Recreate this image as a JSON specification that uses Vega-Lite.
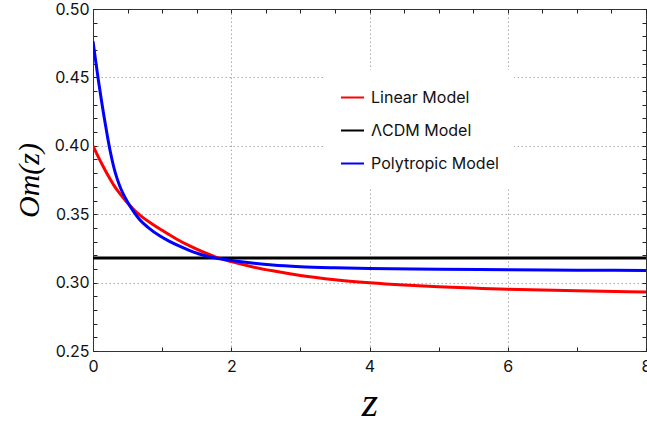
{
  "$schema": "https://vega.github.io/schema/vega-lite/v6.json",
  "width": 553,
  "height": 342,
  "autosize": {"type": "none"},
  "padding": {"left": 93, "top": 9, "right": 1, "bottom": 80},
  "background": "white",
  "config": {
    "view": {"stroke": "#333", "strokeWidth": 1},
    "axis": {"labelFont": "Inter", "labelFontSize": 16, "labelColor": "#111", "domainColor": "#333", "tickColor": "#222", "tickWidth": 1, "ticks": true, "titleColor": "#000", "titleFont": "Liberation Serif", "titleFontStyle": "italic", "titleFontWeight": "normal"}
  },
  "datasets": {
    "curves": [
      {"z": 0, "om": 0.4, "model": "Linear Model"},
      {"z": 0.1, "om": 0.3895, "model": "Linear Model"},
      {"z": 0.2, "om": 0.3799, "model": "Linear Model"},
      {"z": 0.3, "om": 0.3713, "model": "Linear Model"},
      {"z": 0.4, "om": 0.3643, "model": "Linear Model"},
      {"z": 0.5, "om": 0.3582, "model": "Linear Model"},
      {"z": 0.6, "om": 0.3529, "model": "Linear Model"},
      {"z": 0.7, "om": 0.3484, "model": "Linear Model"},
      {"z": 0.85, "om": 0.343, "model": "Linear Model"},
      {"z": 1.0, "om": 0.3382, "model": "Linear Model"},
      {"z": 1.2, "om": 0.3321, "model": "Linear Model"},
      {"z": 1.4, "om": 0.3268, "model": "Linear Model"},
      {"z": 1.6, "om": 0.3222, "model": "Linear Model"},
      {"z": 1.8, "om": 0.3183, "model": "Linear Model"},
      {"z": 2.0, "om": 0.3153, "model": "Linear Model"},
      {"z": 2.3, "om": 0.3116, "model": "Linear Model"},
      {"z": 2.6, "om": 0.3086, "model": "Linear Model"},
      {"z": 3.0, "om": 0.3052, "model": "Linear Model"},
      {"z": 3.5, "om": 0.3021, "model": "Linear Model"},
      {"z": 4.0, "om": 0.2999, "model": "Linear Model"},
      {"z": 4.5, "om": 0.2982, "model": "Linear Model"},
      {"z": 5.0, "om": 0.2969, "model": "Linear Model"},
      {"z": 5.5, "om": 0.296, "model": "Linear Model"},
      {"z": 6.0, "om": 0.2952, "model": "Linear Model"},
      {"z": 7.0, "om": 0.294, "model": "Linear Model"},
      {"z": 8.0, "om": 0.2932, "model": "Linear Model"},
      {"z": 0, "om": 0.4765, "model": "Polytropic Model"},
      {"z": 0.04, "om": 0.4615, "model": "Polytropic Model"},
      {"z": 0.08, "om": 0.4472, "model": "Polytropic Model"},
      {"z": 0.12, "om": 0.4338, "model": "Polytropic Model"},
      {"z": 0.16, "om": 0.4213, "model": "Polytropic Model"},
      {"z": 0.2, "om": 0.4095, "model": "Polytropic Model"},
      {"z": 0.25, "om": 0.3958, "model": "Polytropic Model"},
      {"z": 0.3, "om": 0.3845, "model": "Polytropic Model"},
      {"z": 0.35, "om": 0.3758, "model": "Polytropic Model"},
      {"z": 0.4, "om": 0.369, "model": "Polytropic Model"},
      {"z": 0.45, "om": 0.3636, "model": "Polytropic Model"},
      {"z": 0.5, "om": 0.359, "model": "Polytropic Model"},
      {"z": 0.55, "om": 0.3548, "model": "Polytropic Model"},
      {"z": 0.6, "om": 0.351, "model": "Polytropic Model"},
      {"z": 0.68, "om": 0.3458, "model": "Polytropic Model"},
      {"z": 0.8, "om": 0.3402, "model": "Polytropic Model"},
      {"z": 0.97, "om": 0.334, "model": "Polytropic Model"},
      {"z": 1.1, "om": 0.3303, "model": "Polytropic Model"},
      {"z": 1.26, "om": 0.3264, "model": "Polytropic Model"},
      {"z": 1.4, "om": 0.3234, "model": "Polytropic Model"},
      {"z": 1.55, "om": 0.3207, "model": "Polytropic Model"},
      {"z": 1.7, "om": 0.3187, "model": "Polytropic Model"},
      {"z": 1.84, "om": 0.3174, "model": "Polytropic Model"},
      {"z": 2.0, "om": 0.3162, "model": "Polytropic Model"},
      {"z": 2.3, "om": 0.3143, "model": "Polytropic Model"},
      {"z": 2.6, "om": 0.3128, "model": "Polytropic Model"},
      {"z": 3.0, "om": 0.3116, "model": "Polytropic Model"},
      {"z": 3.5, "om": 0.3108, "model": "Polytropic Model"},
      {"z": 4.0, "om": 0.3103, "model": "Polytropic Model"},
      {"z": 5.0, "om": 0.3098, "model": "Polytropic Model"},
      {"z": 6.0, "om": 0.3094, "model": "Polytropic Model"},
      {"z": 7.0, "om": 0.3091, "model": "Polytropic Model"},
      {"z": 8.0, "om": 0.3089, "model": "Polytropic Model"}
    ],
    "lcdm": [
      {"z": 0, "om": 0.318, "model": "ΛCDM Model"},
      {"z": 8, "om": 0.318, "model": "ΛCDM Model"}
    ]
  },
  "resolve": {"axis": {"x": "independent", "y": "independent"}},
  "layer": [
    {
      "data": {"name": "lcdm"},
      "mark": {"type": "line", "strokeWidth": 3, "clip": true},
      "encoding": {
        "x": {"field": "z", "type": "quantitative", "scale": {"domain": [0, 8], "nice": false},
          "axis": {"orient": "top", "values": [0,0.5,1,1.5,2,2.5,3,3.5,4,4.5,5,5.5,6,6.5,7,7.5,8], "labels": false, "title": null, "grid": false, "domain": false, "tickSize": -4}},
        "y": {"field": "om", "type": "quantitative", "scale": {"domain": [0.25, 0.5], "nice": false, "zero": false},
          "axis": {"orient": "right", "values": [0.25,0.26,0.27,0.28,0.29,0.3,0.31,0.32,0.33,0.34,0.35,0.36,0.37,0.38,0.39,0.4,0.41,0.42,0.43,0.44,0.45,0.46,0.47,0.48,0.49,0.5], "labels": false, "title": null, "grid": false, "domain": false, "tickSize": -4}},
        "color": {"field": "model", "type": "nominal", "scale": {"domain": ["Linear Model", "ΛCDM Model", "Polytropic Model"], "range": ["#ff0000", "#000000", "#0000ff"]}}
      }
    },
    {
      "data": {"name": "curves"},
      "mark": {"type": "line", "strokeWidth": 3, "interpolate": "monotone", "clip": true},
      "encoding": {
        "x": {"field": "z", "type": "quantitative", "scale": {"domain": [0, 8], "nice": false},
          "axis": {"orient": "bottom", "values": [0,0.5,1,1.5,2,2.5,3,3.5,4,4.5,5,5.5,6,6.5,7,7.5,8], "format": "d",
            "labelExpr": "datum.value % 2 == 0 ? format(datum.value, 'd') : ''", "labelPadding": 11, "labelFlush": false, "labelOverlap": false,
            "tickSize": -4,
            "grid": true, "gridColor": "#aaa", "gridDash": [1.5, 2.5],
            "gridOpacity": {"condition": {"test": "datum.value % 2 == 0 && datum.value > 0 && datum.value < 8", "value": 1}, "value": 0},
            "title": "z", "titleFontSize": 42, "titlePadding": 8}},
        "y": {"field": "om", "type": "quantitative", "scale": {"domain": [0.25, 0.5], "nice": false, "zero": false},
          "axis": {"orient": "left", "values": [0.25,0.26,0.27,0.28,0.29,0.3,0.31,0.32,0.33,0.34,0.35,0.36,0.37,0.38,0.39,0.4,0.41,0.42,0.43,0.44,0.45,0.46,0.47,0.48,0.49,0.5],
            "labelExpr": "abs(datum.value*20 - round(datum.value*20)) < 1e-6 ? format(datum.value, '.2f') : ''", "labelPadding": 8, "labelFlush": false, "labelOverlap": false,
            "tickSize": -4,
            "grid": true, "gridColor": "#aaa", "gridDash": [1.5, 2.5],
            "gridOpacity": {"condition": {"test": "abs(datum.value*20 - round(datum.value*20)) < 1e-6 && datum.value > 0.26 && datum.value < 0.49", "value": 1}, "value": 0},
            "title": "Om(z)", "titleFontSize": 30, "titlePadding": 10}},
        "color": {"field": "model", "type": "nominal", "scale": {"domain": ["Linear Model", "ΛCDM Model", "Polytropic Model"], "range": ["#ff0000", "#000000", "#0000ff"]},
          "legend": {"title": null, "orient": "none", "legendX": 232, "legendY": 61, "fillColor": "white", "padding": 15,
            "symbolType": "stroke", "symbolSize": 529, "symbolStrokeWidth": 2, "labelFont": "Inter", "labelFontSize": 16, "labelColor": "#111", "labelOffset": 6, "rowPadding": 12}}
      }
    }
  ]
}
